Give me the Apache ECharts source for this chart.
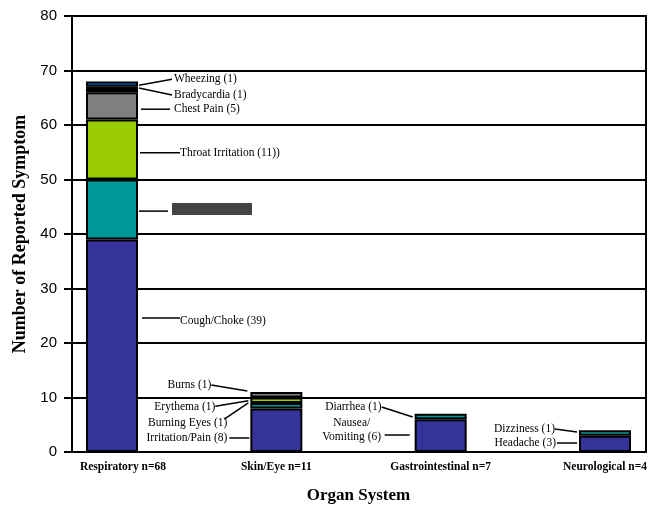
<!DOCTYPE html>
<html>
<head>
<meta charset="utf-8">
<script src="https://cdn.jsdelivr.net/npm/echarts@6/dist/echarts.min.js"></script>
<style>
  html, body { margin: 0; padding: 0; background: #fff; }
  #chart { width: 656px; height: 506px; }
</style>
</head>
<body>
<div id="chart"></div>
<script>
// Organ systems along the x axis
const categories = ['Respiratory n=68', 'Skin/Eye n=11', 'Gastrointestinal n=7', 'Neurological n=4'];

// Stacked symptom counts, bottom to top, one array per stack level
const levelBlue   = [39, 8, 6, 3];          // Cough/Choke, Irritation/Pain, Nausea/Vomiting, Headache
const levelTeal   = [11, 1, 1, 1];          // (withheld), Burning Eyes, Diarrhea, Dizziness
const levelGreen  = [11, 1, null, null];    // Throat Irritation, Erythema
const levelGray   = [5, 1, null, null];     // Chest Pain, Burns
const levelBlack  = [1, null, null, null];  // Bradycardia
const levelSky    = [1, null, null, null];  // Wheezing

// Value axis range
const yMin = 0, yMax = 80, yStep = 10;

const SERIF = '"Liberation Serif", "Times New Roman", Times, serif';
const SANS = '"Liberation Sans", Arial, Helvetica, sans-serif';

const chart = echarts.init(document.getElementById('chart'), null, { renderer: 'canvas' });

const levels = [
  { data: levelBlue,  color: '#333399' },
  { data: levelTeal,  color: '#009999' },
  { data: levelGreen, color: '#99cc00' },
  { data: levelGray,  color: '#808080' },
  { data: levelBlack, color: '#000000' },
  { data: levelSky,   color: '#0066cc' }
];

chart.setOption({
  animation: false,
  backgroundColor: '#ffffff',
  grid: [
    { left: 72, right: 10, top: 16, bottom: 54, show: true, borderColor: '#000', borderWidth: 2,
      containLabel: false, outerBoundsMode: 'none' },
    { left: 112, right: 51, top: 16, bottom: 54, containLabel: false, outerBoundsMode: 'none' }
  ],
  xAxis: [
    { gridIndex: 0, type: 'value', min: 0, max: 1, show: false },
    {
      gridIndex: 1, type: 'category', boundaryGap: false,
      data: categories.map((c, i) => i === 0
        ? { value: c, textStyle: { padding: [0, 0, 0, 22] } }
        : c),
      axisLine: { show: false }, axisTick: { show: false },
      axisLabel: { fontFamily: SERIF, fontWeight: 'bold', fontSize: 11.5, color: '#000', margin: 9, interval: 0 },
      name: 'Organ System', nameLocation: 'middle', nameGap: 35,
      nameTextStyle: { fontFamily: SERIF, fontWeight: 'bold', fontSize: 17, color: '#000' }
    }
  ],
  yAxis: [
    {
      gridIndex: 0, type: 'value', min: yMin, max: yMax, interval: yStep,
      axisLine: { show: true, lineStyle: { color: '#000', width: 2 } },
      axisTick: { show: true, inside: false, length: 8, lineStyle: { color: '#000', width: 2 } },
      splitLine: { show: true, lineStyle: { color: '#000', width: 2 } },
      axisLabel: { fontFamily: SANS, fontSize: 15, color: '#000', margin: 15 },
      name: 'Number of Reported Symptom', nameLocation: 'middle', nameGap: 38, nameRotate: 90,
      nameTextStyle: { fontFamily: SERIF, fontWeight: 'bold', fontSize: 18, color: '#000' }
    },
    { gridIndex: 1, type: 'value', min: yMin, max: yMax, show: false }
  ],
  series: levels.map((lv, i) => ({
    type: 'bar', stack: 'total', xAxisIndex: 1, yAxisIndex: 1,
    barWidth: 52, data: lv.data, z: 3,
    itemStyle: { color: lv.color, borderColor: '#000', borderWidth: 2 }
  }))
});

// Callouts: leader line from a point beside the bar to the label.
// dx values are pixel offsets from the bar centre; y values are in axis units.
const notes = [
  { cat: 0, text: 'Wheezing (1)',          line: [[27, 67.3], [60, 68.4]], at: [62, 68.4], align: 'left' },
  { cat: 0, text: 'Bradycardia (1)',       line: [[27, 66.8], [60, 65.5]], at: [62, 65.5], align: 'left' },
  { cat: 0, text: 'Chest Pain (5)',        line: [[29, 62.9], [58, 62.9]], at: [62, 62.9], align: 'left' },
  { cat: 0, text: 'Throat Irritation (11))', line: [[28, 54.9], [68, 54.9]], at: [68, 54.9], align: 'left' },
  { cat: 0, text: null,                    line: [[27, 44.2], [56, 44.2]] },
  { cat: 0, text: 'Cough/Choke (39)',      line: [[30, 24.6], [68, 24.6]], at: [68, 24.1], align: 'left' },
  { cat: 1, text: 'Burns (1)',             line: [[-65, 12.3], [-29, 11.2]], at: [-65, 12.3], align: 'right' },
  { cat: 1, text: 'Erythema (1)',          line: [[-61, 8.4], [-28, 9.4]], at: [-61, 8.26], align: 'right' },
  { cat: 1, text: 'Burning Eyes (1)',      line: [[-52, 6.05], [-28, 9.0]], at: [-49, 5.3], align: 'right' },
  { cat: 1, text: 'Irritation/Pain (8)',   line: [[-47, 2.57], [-27, 2.57]], at: [-49, 2.57], align: 'right' },
  { cat: 2, text: 'Diarrhea (1)',          line: [[-59, 8.26], [-28, 6.42]], at: [-59, 8.26], align: 'right' },
  { cat: 2, text: 'Nausea/\nVomiting (6)', line: [[-56, 3.12], [-31, 3.12]], at: [-89, 4.04], align: 'center' },
  { cat: 3, text: 'Dizziness (1)',         line: [[-50, 4.22], [-28, 3.67]], at: [-50, 4.22], align: 'right' },
  { cat: 3, text: 'Headache (3)',          line: [[-48, 1.65], [-28, 1.65]], at: [-49, 1.65], align: 'right' }
];

function px(cat, dx, v) {
  const p = chart.convertToPixel({ xAxisIndex: 1, yAxisIndex: 1 }, [cat, v]);
  return [p[0] + dx, p[1]];
}

const elements = [];
notes.forEach(n => {
  const a = px(n.cat, n.line[0][0], n.line[0][1]);
  const b = px(n.cat, n.line[1][0], n.line[1][1]);
  elements.push({
    type: 'line', z: 10,
    shape: { x1: a[0], y1: a[1], x2: b[0], y2: b[1] },
    style: { stroke: '#000', lineWidth: 1.5 }
  });
  if (n.text) {
    const t = px(n.cat, n.at[0], n.at[1]);
    elements.push({
      type: 'text', z: 10, x: t[0], y: t[1],
      style: {
        text: n.text, fill: '#000', font: '11.5px ' + SERIF,
        align: n.align, verticalAlign: 'middle', lineHeight: 14
      }
    });
  }
});

// Dark block beside the teal respiratory segment, where its label would be
const blockTop = px(0, 60, 45.7);
elements.push({
  type: 'rect', z: 10,
  shape: { x: blockTop[0], y: blockTop[1], width: 80, height: 12 },
  style: { fill: '#444444' }
});

chart.setOption({ graphic: { elements } });
</script>
</body>
</html>
